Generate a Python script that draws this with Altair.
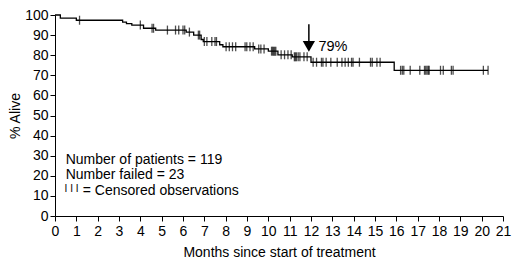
import altair as alt
import pandas as pd
import numpy as np

# Kaplan-Meier step curve (months, % alive)
step_times = [0, 0.25, 1.0, 3.17, 3.35, 3.6, 4.15, 4.72, 6.15, 6.5, 6.85, 6.95,
              7.72, 7.87, 9.36, 10.0, 10.45, 11.12, 12.0, 15.9, 20.3]
step_surv = [100, 98.4, 97.4, 96.5, 95.7, 95.0, 93.4, 92.5, 91.5, 90.0, 87.8, 86.8,
             85.2, 84.2, 83.1, 82.0, 80.2, 79.2, 76.5, 72.5, 72.5]

# censored observations (months)
censor_times = [1.15, 4.0, 4.55, 4.62, 5.27, 5.65, 5.8, 6.0, 6.08, 6.3, 6.72, 6.78,
                7.0, 7.12, 7.35, 7.5, 7.57, 8.02, 8.17, 8.32, 8.47, 8.91, 8.99, 9.14, 9.29,
                9.55, 9.65, 9.8, 10.15, 10.2, 10.25, 10.3, 10.35, 10.6, 10.76, 10.92, 11.07,
                11.22, 11.27, 11.32, 11.4, 11.48, 11.67, 11.82,
                12.1, 12.26, 12.49, 12.56, 12.71, 12.93, 13.23, 13.45, 13.6, 13.75, 13.9,
                13.97, 14.27, 14.79, 14.87, 15.09, 15.24,
                16.2, 16.28, 16.35, 16.65, 17.1, 17.32, 17.38, 17.44, 17.5, 17.54,
                18.07, 18.2, 18.58, 18.66, 20.08, 20.3]

x_ticks = list(range(0, 22))
y_ticks = list(range(0, 101, 10))

notes = ["Number of patients = 119", "Number failed = 23"]
note_y = [28.0, 20.2]
legend_text = "= Censored observations"
legend_y = 12.3

arrow_x = 11.9
arrow_label = "79%"

FONT = "Liberation Sans"

# censor marks sit on the current step value
idx = np.searchsorted(np.array(step_times), np.array(censor_times), side="right") - 1
censor_surv = [step_surv[i] for i in idx]

steps = pd.DataFrame({"t": step_times, "s": step_surv})
cens = pd.DataFrame({"t": censor_times, "s": censor_surv})

xs = alt.Scale(domain=[0, 21], nice=False)
ys = alt.Scale(domain=[0, 100], nice=False)

xaxis = alt.Axis(values=x_ticks, title="Months since start of treatment",
                 labelFlush=False, labelOverlap=False, titlePadding=7, labelPadding=3)
yaxis = alt.Axis(values=y_ticks, title="% Alive", labelFlush=False, labelOverlap=False,
                 titlePadding=2, labelPadding=2)


def X():
    return alt.X("t:Q", scale=xs, axis=xaxis)


def Y():
    return alt.Y("s:Q", scale=ys, axis=yaxis)


line = alt.Chart(steps).mark_line(interpolate="step-after", color="black", strokeWidth=1.3).encode(
    x=X(), y=Y())

ticks = alt.Chart(cens).mark_tick(orient="vertical", color="black", size=9, thickness=1.3).encode(
    x=X(), y=Y())

notes_df = pd.DataFrame({"t": [0.5] * len(notes), "s": note_y, "label": notes})
note_text = alt.Chart(notes_df).mark_text(align="left", baseline="middle", font=FONT,
                                          fontSize=14, color="black").encode(
    x=X(), y=Y(), text="label:N")

leg_df = pd.DataFrame({"t": [1.3], "s": [legend_y], "label": [legend_text]})
leg_text = alt.Chart(leg_df).mark_text(align="left", baseline="middle", font=FONT,
                                       fontSize=14, color="black").encode(
    x=X(), y=Y(), text="label:N")

bars_df = pd.DataFrame({"t": [0.45], "s": [legend_y + 1.2], "label": ["I I I"]})
bars_text = alt.Chart(bars_df).mark_text(align="left", baseline="middle", font=FONT,
                                         fontSize=10, color="black").encode(
    x=X(), y=Y(), text="label:N")

arrow_df = pd.DataFrame({"t": [arrow_x], "s": [95.4], "s2": [86.0]})
arrow_line = alt.Chart(arrow_df).mark_rule(color="black", strokeWidth=1.5).encode(
    x=X(), y=Y(), y2="s2:Q")

head_df = pd.DataFrame({"t": [arrow_x], "s": [84.4]})
arrow_head = alt.Chart(head_df).mark_point(shape="triangle-down", filled=True, size=150,
                                           color="black", opacity=1).encode(
    x=X(), y=Y())

lab_df = pd.DataFrame({"t": [12.35], "s": [83.9], "label": [arrow_label]})
arrow_text = alt.Chart(lab_df).mark_text(align="left", baseline="middle", font=FONT,
                                         fontSize=14.5, color="black").encode(
    x=X(), y=Y(), text="label:N")

chart = alt.layer(line, ticks, note_text, leg_text, bars_text, arrow_line, arrow_head, arrow_text).properties(
    width=504, height=251,
    autosize=alt.AutoSizeParams(type="fit", contains="padding"),
    padding={"left": 0, "top": 0, "right": 1, "bottom": 0},
).configure_view(stroke=None).configure_axis(
    grid=False, domainColor="black", tickColor="black", labelColor="black", titleColor="black",
    labelFont=FONT, titleFont=FONT, labelFontSize=14, titleFontSize=14, titleFontWeight="normal",
    tickSize=5, domainWidth=1, tickWidth=1, labelOverlap=False, labelFlush=False,
)

chart.save("out.html", embed_options={"renderer": "svg", "actions": False})
